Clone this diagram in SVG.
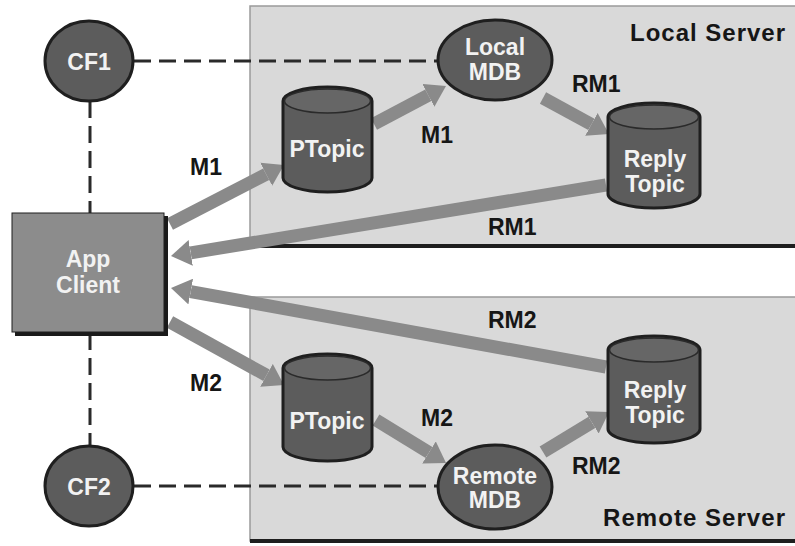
<svg xmlns="http://www.w3.org/2000/svg" width="795" height="546" viewBox="0 0 795 546">
<defs>
<style>
.box{fill:#d9d9d9;stroke:#9a9a9a;stroke-width:1.5}
.boxbot{stroke:#1e1e1e;stroke-width:4}
.dash{stroke:#2a2a2a;stroke-width:3;stroke-dasharray:17 8;fill:none}
.arrow{stroke:#8a8a8a;stroke-width:13;fill:none;marker-end:url(#ah)}
.node{fill:#5c5c5c;stroke:#1f1f1f;stroke-width:3}
.rim{fill:#666;stroke:#2a2a2a;stroke-width:1.5}
.app{fill:#8c8c8c;stroke:#1f1f1f;stroke-width:1}
.nt{font-family:"Liberation Sans",Arial,sans-serif;font-weight:bold;font-size:23px;fill:#f2f2f2;text-anchor:middle}
.lb{font-family:"Liberation Sans",Arial,sans-serif;font-weight:bold;font-size:23px;fill:#161616}
.title{font-family:"Liberation Sans",Arial,sans-serif;font-weight:bold;font-size:24px;fill:#161616}
</style>
<marker id="ah" markerUnits="userSpaceOnUse" viewBox="0 0 20 26" markerWidth="20" markerHeight="26" refX="0" refY="13" orient="auto">
<path d="M0,0 L20,13 L0,26 Z" fill="#8a8a8a"/>
</marker>
</defs>
<rect width="795" height="546" fill="#ffffff"/>

<g id="local-server">
<rect class="box" x="250" y="6" width="560" height="240"/>
<line class="boxbot" x1="250" y1="246" x2="795" y2="246"/>
<text class="title" x="630" y="41" textLength="155" lengthAdjust="spacing">Local Server</text>
</g>
<g id="remote-server">
<rect class="box" x="250" y="297" width="560" height="244"/>
<line class="boxbot" x1="250" y1="541" x2="795" y2="541"/>
<text class="title" x="603" y="526" textLength="182" lengthAdjust="spacing">Remote Server</text>
</g>

<g id="connectors">
<line class="dash" x1="134" y1="61" x2="440" y2="61"/>
<line class="dash" x1="90" y1="101" x2="90" y2="213"/>
<line class="dash" x1="90" y1="333" x2="90" y2="446"/>
<line class="dash" x1="134" y1="486" x2="440" y2="486"/>
<line class="arrow" x1="170" y1="224" x2="266.2" y2="174.2"/>
<line class="arrow" x1="374" y1="124" x2="428.3" y2="95.3"/>
<line class="arrow" x1="543" y1="98" x2="591.4" y2="124.4"/>
<line class="arrow" x1="606" y1="185" x2="190.7" y2="252.8"/>
<line class="arrow" x1="606" y1="367" x2="190.7" y2="291.6"/>
<line class="arrow" x1="170" y1="322" x2="266.5" y2="375.3"/>
<line class="arrow" x1="376" y1="420" x2="429" y2="452.5"/>
<line class="arrow" x1="543" y1="452" x2="591.9" y2="422.4"/>
<text class="lb" x="190" y="175">M1</text>
<text class="lb" x="421" y="143">M1</text>
<text class="lb" x="572" y="92">RM1</text>
<text class="lb" x="488" y="235">RM1</text>
<text class="lb" x="488" y="328">RM2</text>
<text class="lb" x="190" y="391">M2</text>
<text class="lb" x="421" y="426">M2</text>
<text class="lb" x="572" y="474">RM2</text>
</g>

<g id="cf1">
<ellipse class="node" cx="89" cy="61" rx="44" ry="40"/>
<text class="nt" x="89" y="70">CF1</text>
</g>
<g id="cf2">
<ellipse class="node" cx="89" cy="486" rx="44" ry="40"/>
<text class="nt" x="89" y="495">CF2</text>
</g>
<g id="app-client">
<rect x="15" y="216" width="153" height="120" fill="#1a1a1a"/>
<rect class="app" x="12" y="213" width="152" height="119"/>
<text class="nt" x="88" y="267">App</text>
<text class="nt" x="88" y="293">Client</text>
</g>
<g id="local-mdb">
<ellipse class="node" cx="495" cy="60" rx="57" ry="40"/>
<text class="nt" x="495" y="55">Local</text>
<text class="nt" x="495" y="80">MDB</text>
</g>
<g id="remote-mdb">
<ellipse class="node" cx="495" cy="487" rx="57" ry="42"/>
<text class="nt" x="495" y="484">Remote</text>
<text class="nt" x="495" y="508">MDB</text>
</g>
<g id="ptopic-local">
<path class="node" d="M283,101 A44.5,14 0 0 1 372,101 V178 A44.5,14 0 0 1 283,178 Z"/>
<ellipse class="rim" cx="327.5" cy="101" rx="43" ry="12"/>
<text class="nt" x="327" y="157">PTopic</text>
</g>
<g id="ptopic-remote">
<path class="node" d="M283,368 A44.5,14 0 0 1 372,368 V447 A44.5,14 0 0 1 283,447 Z"/>
<ellipse class="rim" cx="327.5" cy="368" rx="43" ry="12"/>
<text class="nt" x="327" y="429">PTopic</text>
</g>
<g id="reply-topic-local">
<path class="node" d="M608,117 A46,14 0 0 1 700,117 V194 A46,14 0 0 1 608,194 Z"/>
<ellipse class="rim" cx="654" cy="117" rx="44.5" ry="12"/>
<text class="nt" x="655" y="167">Reply</text>
<text class="nt" x="655" y="192">Topic</text>
</g>
<g id="reply-topic-remote">
<path class="node" d="M608,350 A46,14 0 0 1 700,350 V429 A46,14 0 0 1 608,429 Z"/>
<ellipse class="rim" cx="654" cy="350" rx="44.5" ry="12"/>
<text class="nt" x="655" y="398">Reply</text>
<text class="nt" x="655" y="423">Topic</text>
</g>
</svg>
